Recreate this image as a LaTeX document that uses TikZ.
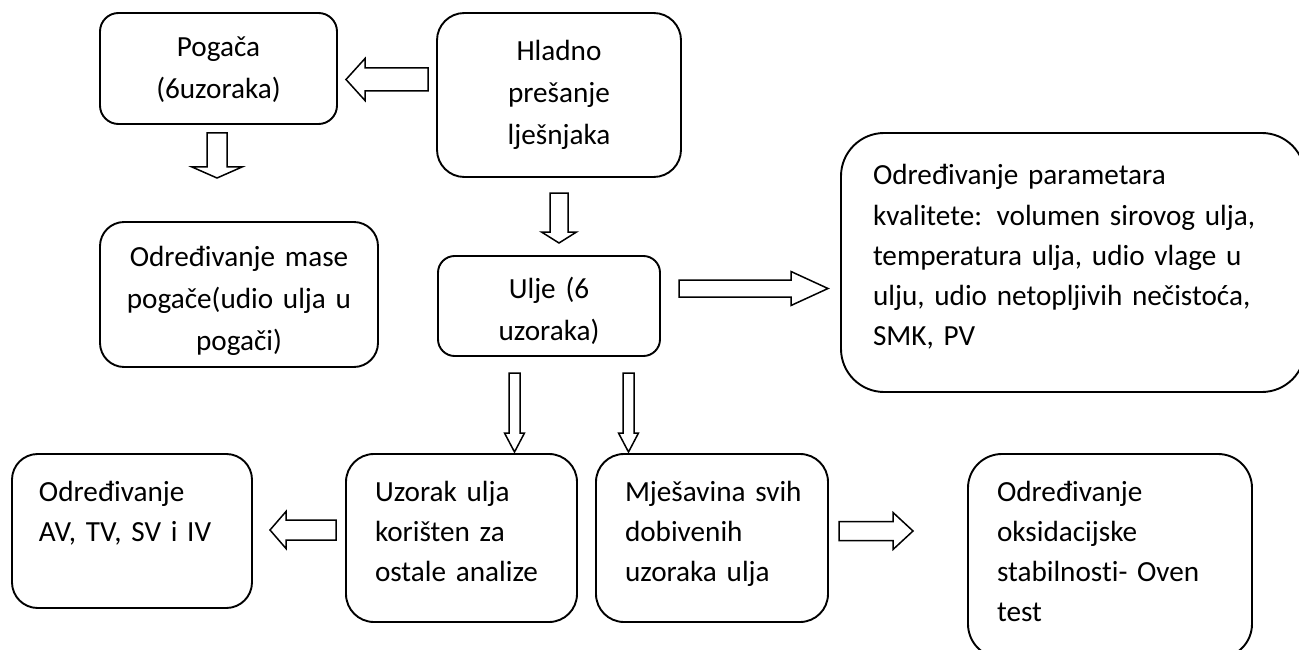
\documentclass[tikz,border=0pt]{standalone}
\usepackage{fontspec}
\setmainfont{Carlito}[Ligatures=CommonOff]
\usepackage{tikz}
\usetikzlibrary{calc}
\tikzset{
  box/.style={draw=black,line width=1.9pt,inner sep=0pt},
  hollow/.style={draw=black,line width=1.5pt,fill=white,line join=miter},
}
% hollow block arrow: tail, tip, half shaft, half head, head length
\newcommand{\blockarrow}[5]{%
  \coordinate (hb) at ($(#2)!#5!(#1)$);
  \draw[hollow] ($(#1)!#3!90:(#2)$) -- ($(hb)!#3!-90:(#1)$) -- ($(hb)!#4!-90:(#1)$) -- (#2)
    -- ($(hb)!#4!90:(#1)$) -- ($(hb)!#3!90:(#1)$) -- ($(#1)!#3!-90:(#2)$) -- cycle;
}

\begin{document}
\begin{tikzpicture}[x=1pt,y=-1pt]
  \useasboundingbox (0,0) rectangle (1299,650);

  % centred boxes
  \foreach \name/\l/\t/\r/\b/\first/\txt in {
    pogaca/100/13/337/124/57/{Pogača\\(6uzoraka)},
    hladno/437/13/681/177/61/{Hladno\\prešanje\\lješnjaka},
    masa/100/222/378/367/266/{Određivanje mase\\pogače(udio ulja u\\pogači)},
    ulje/438/256/660/356/298/{Ulje (6\\uzoraka)}} {
    \pgfmathsetmacro{\w}{\r-\l}
    \pgfmathsetmacro{\h}{\b-\t}
    \pgfmathsetmacro{\rad}{min(\w,\h)/6}
    \pgfmathsetmacro{\th}{\first-\t}
    \pgfmathsetmacro{\td}{\b-\first}
    \node[box,rounded corners=\rad pt,minimum width=\w pt,minimum height=\h pt,text width=\w pt,
      text height=\th pt,text depth=\td pt,align=center,font=\fontsize{29.2}{42}\selectfont,
      execute at begin node={\leftskip=0pt plus 1fil\rightskip=0pt plus 1fil\parfillskip=0pt\relax}]
      (\name) at ({(\l+\r)/2},{(\t+\b)/2}) {\txt};
  }

  % boxes with text set from the left
  \foreach \name/\l/\t/\r/\b/\first/\pad/\txt in {
    param/841/133/1305/392/185/32/{Određivanje parametara\\kvalitete: volumen sirovog ulja,\\temperatura ulja, udio vlage u\\ulju, udio netopljivih nečistoća,\\SMK, PV},
    av/12/454/252/608/501/27/{Određivanje\\AV, TV, SV i IV},
    uzorak/346/454/577/622/501/29/{Uzorak ulja\\korišten za\\ostale analize},
    mjes/596/454/828/622/501/29/{Mješavina svih\\dobivenih\\uzoraka ulja},
    oksid/968/454/1252/658/501/29/{Određivanje\\oksidacijske\\stabilnosti- Oven\\test}} {
    \pgfmathsetmacro{\w}{\r-\l}
    \pgfmathsetmacro{\h}{\b-\t}
    \pgfmathsetmacro{\rad}{min(\w,\h)/6}
    \pgfmathsetmacro{\th}{\first-\t}
    \pgfmathsetmacro{\td}{\b-\first}
    \node[box,rounded corners=\rad pt,minimum width=\w pt,minimum height=\h pt,text width=\w pt,
      text height=\th pt,text depth=\td pt,align=left,font=\fontsize{29.2}{40.2}\selectfont,
      execute at begin node={\leftskip=\pad pt\rightskip=0pt plus 1fil\relax}]
      (\name) at ({(\l+\r)/2},{(\t+\b)/2}) {\txt};
  }

  % arrow ends
  \coordinate (cake_tail) at (428,79.5);
  \coordinate (cake_tip) at (346,79.5);
  \coordinate (mass_tail) at (217,133);
  \coordinate (mass_tip) at (217,178);
  \coordinate (oil_tail) at (559,193);
  \coordinate (oil_tip) at (559,243);
  \coordinate (quality_tail) at (679,288.5);
  \coordinate (quality_tip) at (828,288.5);
  \coordinate (sample_tail) at (514.5,373);
  \coordinate (sample_tip) at (514.5,452);
  \coordinate (blend_tail) at (628.5,373);
  \coordinate (blend_tip) at (628.5,452);
  \coordinate (avtv_tail) at (336,530);
  \coordinate (avtv_tip) at (270,530);
  \coordinate (oven_tail) at (839,531);
  \coordinate (oven_tip) at (913,531);

  \foreach \a/\sw/\hw/\hl in {cake/11.5/21/19, mass/10/25/11, oil/9/17.5/11, quality/8.5/17/37,
    sample/5.5/10/19, blend/5.5/10/19, avtv/10/18.5/16, oven/9.5/18.5/20} {
    \blockarrow{\a_tail}{\a_tip}{\sw pt}{\hw pt}{\hl pt}
  }
\end{tikzpicture}
\end{document}
